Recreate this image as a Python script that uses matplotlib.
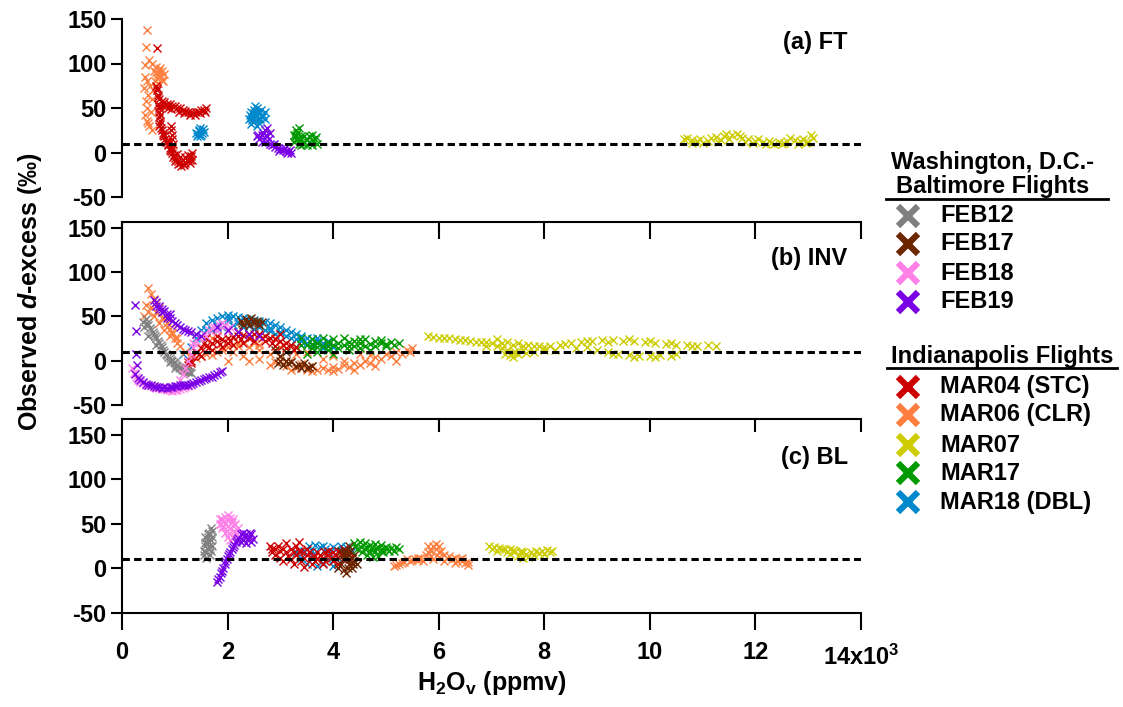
import matplotlib
matplotlib.use('Agg')
import matplotlib.pyplot as plt
from matplotlib.lines import Line2D

plt.rcParams['font.family'] = ['Liberation Sans', 'DejaVu Sans']
plt.rcParams['font.weight'] = 'bold'
plt.rcParams['mathtext.fontset'] = 'custom'
plt.rcParams['mathtext.bf'] = 'Liberation Sans:bold'
plt.rcParams['mathtext.rm'] = 'Liberation Sans:bold'
plt.rcParams['mathtext.bfit'] = 'Liberation Sans:italic:bold'

# flight names and colours
flights = ['FEB12', 'FEB17', 'FEB18', 'FEB19',
           'MAR04', 'MAR06', 'MAR07', 'MAR17', 'MAR18']
legend_labels = ['FEB12', 'FEB17', 'FEB18', 'FEB19',
                 'MAR04 (STC)', 'MAR06 (CLR)', 'MAR07', 'MAR17', 'MAR18 (DBL)']
colors = {'FEB12': '#808080', 'FEB17': '#6b2600', 'FEB18': '#ff80e6',
          'FEB19': '#7a00e6', 'MAR04': '#cc0000', 'MAR06': '#ff7f40',
          'MAR07': '#cccc00', 'MAR17': '#009900', 'MAR18': '#0088cc'}

# ---- (a) FT : (H2Ov ppmv, d-excess permil) ----
a_mar06 = [(470, 138), (460, 119), (520, 104), (440, 98), (560, 100), (600, 92), (650, 90),
           (700, 85), (620, 80), (690, 78), (750, 82), (800, 88), (720, 95), (760, 92),
           (640, 96), (430, 85), (480, 80), (420, 72), (500, 65), (450, 58), (470, 50),
           (430, 42), (480, 35), (510, 30), (540, 45), (560, 60), (590, 70), (530, 75),
           (560, 25), (500, 33), (680, 88), (730, 86), (780, 80), (660, 84), (700, 92)]
a_mar04 = [(660, 117), (650, 75), (660, 70), (680, 65), (700, 60), (690, 55), (700, 50),
           (710, 45), (700, 40), (720, 35), (710, 30), (740, 28), (760, 25), (780, 20),
           (800, 18), (820, 15), (850, 12), (880, 8), (900, 5), (920, 2), (950, 0),
           (980, -3), (1000, -6), (1030, -8), (1060, -10), (1100, -12), (1150, -13),
           (1200, -12), (1250, -10), (1280, -8), (1300, -4), (1320, 0), (1050, -2),
           (1100, -5), (1150, -8), (1200, -5), (1250, -3), (760, 58), (800, 57), (850, 55),
           (900, 55), (950, 52), (1000, 52), (1050, 50), (1100, 50), (1150, 48), (1200, 47),
           (1250, 46), (1300, 45), (1350, 44), (1400, 45), (1450, 46), (1500, 48),
           (1550, 48), (1600, 50), (920, 30), (930, 25), (940, 20), (950, 15), (960, 10),
           (950, 5), (670, 72), (690, 62), (710, 52), (715, 42), (725, 32), (770, 22),
           (830, 12), (870, 10), (910, 3), (970, -5), (1010, -10), (1070, -13), (1120, -15),
           (1180, -14), (1230, -8), (1280, -12), (1320, -8), (780, 52), (830, 52), (880, 50),
           (930, 49), (1080, 46), (1180, 44), (1280, 42), (1380, 42), (1480, 44), (1580, 45)]
a_mar18 = [(1400, 22), (1450, 25), (1500, 20), (1480, 28), (1530, 26), (1420, 18),
           (1470, 18), (1550, 23), (1440, 21), (1510, 22), (1460, 24), (2400, 38),
           (2450, 45), (2500, 48), (2550, 42), (2600, 45), (2650, 40), (2700, 38),
           (2450, 32), (2500, 35), (2550, 30), (2600, 33), (2700, 45), (2480, 40),
           (2620, 38), (2550, 50), (2420, 42), (2520, 52), (2580, 38), (2680, 42),
           (2500, 44), (2560, 46), (2640, 48), (2460, 36)]
a_feb19 = [(2550, 18), (2600, 15), (2650, 20), (2700, 25), (2750, 27), (2800, 22),
           (2700, 12), (2800, 10), (2850, 8), (2900, 6), (2950, 5), (3000, 4), (3050, 3),
           (3100, 2), (3150, 1), (3200, 0), (2750, 18), (2650, 12), (2580, 20), (2680, 22),
           (2720, 20), (2780, 15), (2880, 9), (2980, 2), (3080, 5), (3180, 3), (3130, 0)]
a_mar17 = [(3250, 20), (3300, 25), (3350, 28), (3300, 15), (3250, 12), (3350, 10),
           (3400, 8), (3450, 12), (3500, 15), (3550, 18), (3600, 20), (3650, 15),
           (3700, 10), (3600, 8), (3500, 8), (3400, 18), (3300, 20), (3280, 17), (3320, 22),
           (3380, 14), (3450, 18), (3550, 12), (3620, 13), (3680, 17), (3420, 10)]
a_mar07 = [(10650, 15), (10800, 14), (10950, 15), (11100, 13), (11250, 17), (11400, 19),
           (11550, 20), (11700, 18), (11850, 15), (12000, 13), (12150, 12), (12300, 11),
           (12450, 12), (12600, 13), (12750, 14), (12900, 15), (13050, 20), (11500, 15),
           (11800, 12), (12200, 9), (12500, 9), (12800, 10), (13000, 12), (11300, 12),
           (11000, 11), (10800, 11), (10700, 16), (10900, 13), (11150, 16), (11350, 14),
           (11450, 21), (11650, 21), (11750, 16), (11950, 11), (12050, 15), (12250, 13),
           (12350, 9), (12550, 11), (12650, 16), (12850, 13), (12950, 11), (13100, 16)]

# ---- (b) INV ----
b_mar07 = [(5800, 28), (6000, 26), (6200, 25), (6400, 23), (6600, 22), (6800, 21),
           (7000, 20), (7100, 17), (7200, 14), (7300, 12), (7400, 9), (7500, 8), (7300, 21),
           (7500, 20), (7700, 18), (7900, 16), (8100, 17), (8300, 18), (8500, 20),
           (8700, 21), (8900, 22), (9100, 23), (9300, 23), (9500, 22), (9700, 22),
           (9900, 21), (10100, 20), (10300, 19), (10500, 18), (10700, 18), (10900, 17),
           (11100, 18), (11250, 17), (8000, 12), (8200, 12), (9200, 10), (9400, 8),
           (9600, 6), (9800, 5), (10000, 5), (10200, 6), (10400, 5), (8600, 14),
           (8800, 15), (9000, 12), (7800, 10), (7600, 12), (7100, 24), (6900, 16), (7400, 4),
           (5900, 27), (6100, 25), (6300, 24), (6500, 23), (6700, 21), (6900, 21),
           (7200, 20), (7400, 18), (7600, 17), (7800, 16), (8000, 15), (7250, 8), (7350, 6),
           (7450, 10), (7650, 9), (8400, 19), (8800, 22), (9200, 21), (9600, 24),
           (10000, 22), (10400, 20), (10800, 17), (9300, 7), (9700, 4), (10100, 4), (10500, 7)]
b_mar17 = [(3300, 15), (3500, 18), (3700, 20), (3900, 21), (4100, 20), (4300, 21),
           (4500, 20), (4700, 19), (4900, 20), (5100, 21), (5250, 20), (3500, 8), (3700, 10),
           (3900, 12), (4100, 14), (4300, 16), (4500, 14), (4700, 12), (3400, 25),
           (3600, 24), (3800, 26), (4000, 24), (4200, 25), (4400, 22), (4600, 24),
           (4800, 17), (5000, 16), (3600, 14), (4000, 8), (3400, 18), (3600, 19), (3800, 16),
           (4000, 18), (4200, 18), (4400, 17), (4600, 17), (4800, 22), (5000, 19),
           (3700, 15), (3900, 17), (4300, 12), (4500, 24), (4900, 23), (5150, 18)]
b_mar06 = [(500, 82), (550, 75), (600, 70), (650, 65), (700, 60), (750, 55), (800, 48),
           (850, 42), (900, 36), (950, 30), (1000, 25), (1050, 20), (1100, 16), (450, 63),
           (420, 50), (500, 55), (600, 50), (700, 42), (800, 35), (900, 28), (1200, 10),
           (1300, 5), (1400, 3), (1600, 8), (1800, 10), (2000, 15), (2200, 17), (2400, 15),
           (2600, 12), (2800, 8), (3000, 4), (3200, 0), (3400, -4), (3600, -6), (3800, -8),
           (4000, -7), (4200, -5), (4400, -3), (4600, 0), (4800, 4), (5000, 8), (5200, 10),
           (5400, 12), (5500, 14), (2000, 0), (2400, 0), (2800, -5), (3200, -10),
           (3600, -12), (4000, -12), (4400, -10), (4800, -6), (5200, 0), (1700, 25),
           (2100, 28), (2500, 20), (3000, 15), (3500, 10), (4000, 5), (4500, 8), (2900, 25),
           (1500, 5), (1700, 6), (1900, 12), (2100, 10), (2300, 5), (2600, 2), (2900, -2),
           (3100, -6), (3300, -8), (3500, -10), (3700, -10), (3900, -10), (4100, -9),
           (4300, -7), (4500, -5), (4700, -3), (4900, 2), (5100, 5), (5300, 8), (5450, 10),
           (2200, 20), (2600, 18), (3300, 8), (3800, 2), (4200, 0), (4700, 6), (550, 60),
           (650, 55), (750, 48), (850, 38), (950, 32), (1050, 25)]
b_mar18 = [(1150, 8), (1300, 15), (1400, 25), (1500, 35), (1600, 42), (1700, 46),
           (1800, 48), (1900, 50), (2000, 51), (2100, 50), (2200, 49), (2300, 48),
           (2400, 47), (2500, 46), (2600, 45), (2700, 44), (2800, 42), (2900, 40),
           (3000, 38), (3100, 35), (3200, 32), (3300, 30), (3400, 28), (3500, 26),
           (3600, 24), (3700, 22), (3800, 20), (3900, 18), (4000, 15), (1700, 35),
           (1900, 38), (2100, 40), (2300, 38), (2500, 36), (2700, 34), (2900, 30),
           (3100, 28), (3300, 24), (3500, 20), (2000, 45), (2400, 43), (2800, 37),
           (1600, 35), (1800, 40), (2000, 48), (2200, 44), (2400, 39), (2600, 38),
           (2800, 33), (3000, 32), (3200, 25), (3400, 22), (3600, 18), (3800, 14),
           (3700, 26), (3900, 22)]
b_feb17 = [(2250, 45), (2350, 47), (2450, 48), (2550, 45), (2650, 43), (2300, 40),
           (2400, 40), (2500, 42), (2600, 40), (2900, 12), (3000, 5), (3100, 0), (3200, -2),
           (2950, -3), (3050, -5), (3300, -6), (3400, -8), (3500, -8), (3600, -6),
           (3450, -3), (3100, 10), (2280, 42), (2380, 44), (2480, 45), (2580, 42),
           (3150, -3), (3350, -5), (3550, -7), (3000, 0)]
b_mar04 = [(1200, -8), (1250, -5), (1300, 0), (1350, 5), (1400, 10), (1500, 14),
           (1600, 17), (1700, 20), (1800, 22), (1900, 24), (2000, 26), (2100, 27),
           (2200, 28), (2300, 29), (2400, 30), (2500, 30), (2600, 30), (2700, 28),
           (2800, 26), (2900, 24), (3000, 22), (3100, 20), (3200, 18), (3300, 15),
           (1300, -3), (1500, 5), (1700, 12), (1900, 15), (2100, 18), (2300, 20),
           (2500, 22), (2700, 22), (2900, 17), (3100, 14), (1600, 25), (2000, 20),
           (2400, 25), (3000, 30), (1250, -2), (1450, 8), (1650, 15), (1850, 19),
           (2050, 22), (2250, 24), (2450, 27), (2650, 26), (2850, 20), (3050, 18),
           (3250, 12), (1550, 20), (1800, 28), (2200, 32)]
b_feb18 = [(180, -8), (220, -14), (260, -18), (300, -22), (400, -25), (500, -28),
           (600, -30), (700, -31), (800, -32), (900, -33), (1000, -33), (1100, -32),
           (1200, -30), (1300, -28), (1100, -22), (1150, -15), (1200, -8), (1250, 0),
           (1300, 8), (1350, 15), (1450, 25), (1550, 30), (1650, 35), (1750, 38),
           (1850, 40), (1950, 40), (2050, 38), (1600, 28), (1800, 33), (2000, 33),
           (350, -24), (450, -27), (550, -29), (650, -31), (750, -32), (850, -33),
           (950, -34), (1050, -33), (1150, -31), (1250, -29), (1350, 20), (1500, 28),
           (1700, 37), (1900, 42), (1400, 22)]
b_feb19 = [(250, 63), (260, 33), (260, 8), (280, -5), (600, 68), (650, 66), (700, 62),
           (750, 58), (800, 56), (850, 52), (900, 48), (950, 45), (1000, 42), (1100, 38),
           (1200, 35), (1300, 32), (1400, 30), (1500, 28), (700, 58), (900, 52), (250, -15),
           (300, -20), (400, -24), (500, -27), (600, -29), (700, -30), (800, -30),
           (900, -30), (1000, -29), (1100, -28), (1200, -27), (1300, -26), (1400, -24),
           (1500, -22), (1600, -20), (1700, -18), (1800, -15), (1900, -12), (2000, 35),
           (2200, 32), (2400, 30), (2600, 28), (1800, 38), (650, 62), (750, 55), (850, 48),
           (1050, 40), (1150, 36), (1250, 33), (350, -22), (450, -26), (550, -28),
           (650, -30), (750, -31), (850, -31), (950, -30), (1050, -29), (1150, -28),
           (1250, -27), (1350, -25), (1450, -23), (1550, -21), (1650, -19), (1750, -16),
           (1850, -13)]
b_feb12 = [(400, 43), (450, 47), (500, 40), (550, 35), (600, 30), (650, 26), (700, 20),
           (750, 15), (800, 10), (850, 6), (900, 3), (950, 0), (1000, -3), (1050, -6),
           (1100, -8), (1150, -10), (1200, -12), (1250, -13), (1300, -14), (650, 18),
           (900, -2), (500, 28), (1000, -8), (420, 38), (480, 42), (530, 37), (580, 32),
           (630, 28), (680, 22), (730, 18), (780, 12), (830, 8), (880, 4), (930, 1),
           (980, -2), (1030, -5), (1080, -7), (1130, -9), (1180, -11), (1230, -12),
           (1280, -13)]

# ---- (c) BL ----
c_feb12 = [(1550, 20), (1580, 25), (1600, 30), (1620, 35), (1650, 40), (1680, 45),
           (1700, 42), (1650, 30), (1700, 25), (1680, 20), (1600, 18), (1560, 15),
           (1620, 22), (1700, 35), (1660, 15), (1570, 28), (1630, 38), (1690, 32),
           (1580, 35), (1640, 25), (1600, 12)]
c_feb18 = [(1850, 50), (1900, 55), (1950, 58), (2000, 60), (2050, 57), (2100, 55),
           (2150, 50), (2200, 45), (2150, 40), (2100, 35), (2050, 32), (2000, 35),
           (1950, 40), (1900, 45), (1850, 55), (2050, 45), (2100, 48), (1950, 50),
           (2000, 48), (2180, 38), (1880, 50), (1980, 55), (2080, 52), (2120, 42),
           (2020, 40), (1920, 48)]
c_feb19 = [(1800, -15), (1850, -10), (1880, -5), (1920, 0), (1950, 5), (1980, 10),
           (2010, 14), (2050, 18), (2080, 22), (2120, 26), (2160, 30), (2200, 34),
           (2250, 38), (2300, 40), (2350, 38), (2400, 35), (2450, 30), (2350, 28),
           (2300, 32), (2420, 40), (2480, 33), (2250, 30), (1820, -12), (1900, -3),
           (1960, 8), (2030, 16), (2100, 24), (2180, 32), (2380, 33), (2320, 36), (2440, 38)]
c_mar04 = [(2800, 25), (2900, 22), (3000, 20), (3100, 18), (3200, 22), (3300, 25),
           (3400, 20), (3500, 15), (3600, 12), (3700, 10), (3800, 12), (3900, 15),
           (4000, 18), (4100, 20), (4200, 22), (4300, 18), (4350, 12), (2900, 15),
           (3000, 12), (3200, 10), (3400, 8), (3600, 5), (3800, 5), (4000, 8), (4200, 10),
           (2850, 18), (3100, 28), (3300, 15), (3500, 22), (3700, 18), (3900, 20),
           (4100, 5), (3350, 30), (3050, 8), (2850, 22), (2950, 25), (3050, 22), (3150, 14),
           (3250, 18), (3350, 20), (3450, 12), (3550, 18), (3650, 14), (3750, 15),
           (3850, 8), (3950, 12), (4050, 15), (4150, 16), (4250, 14), (3250, 5), (3450, 2),
           (3650, 8), (3850, 18), (4300, 10)]
c_mar18 = [(3450, 20), (3550, 25), (3650, 26), (3750, 24), (3850, 22), (3950, 20),
           (4050, 22), (4150, 25), (4250, 24), (4350, 20), (3500, 5), (3700, 3),
           (3600, 15), (3900, 10), (4100, 12), (3300, 18), (3400, 12), (3600, 20),
           (3800, 25), (4000, 24), (4200, 18), (3800, 6), (4000, 3)]
c_feb17 = [(4150, 20), (4200, 15), (4250, 10), (4300, 5), (4350, 0), (4200, -2),
           (4150, 5), (4250, 20), (4300, 15), (4350, 12), (4400, 8), (4450, 5), (4100, 0),
           (4250, -5), (4400, 15), (4300, 25), (4180, 10), (4280, 0), (4380, 5),
           (4220, 18), (4320, 20)]
c_mar17 = [(4400, 28), (4500, 30), (4600, 28), (4700, 26), (4800, 27), (4900, 26),
           (5000, 24), (5100, 23), (5250, 22), (4450, 22), (4550, 18), (4650, 15),
           (4750, 13), (4850, 14), (4950, 18), (5050, 20), (5200, 24), (4600, 22),
           (4800, 20), (4420, 25), (4520, 24), (4620, 24), (4720, 22), (4820, 23),
           (4920, 22), (5020, 22), (4700, 18), (4900, 20), (5150, 20)]
c_mar06 = [(5150, 3), (5250, 5), (5350, 7), (5450, 8), (5550, 10), (5650, 12), (5750, 15),
           (5850, 20), (5900, 25), (5950, 22), (6000, 18), (6100, 15), (6200, 14),
           (6300, 12), (6400, 10), (6500, 6), (6550, 4), (5700, 8), (5900, 10), (6100, 8),
           (6300, 6), (5800, 25), (6000, 25), (5600, 12), (6450, 12), (5200, 4), (5300, 6),
           (5400, 10), (5500, 9), (5600, 9), (5800, 18), (5950, 27), (6050, 20), (6150, 12),
           (6250, 10), (6350, 8), (6450, 8), (6550, 7), (5850, 14), (6000, 13)]
c_mar07 = [(6950, 25), (7050, 24), (7150, 23), (7250, 22), (7350, 22), (7450, 20),
           (7550, 17), (7650, 16), (7750, 18), (7850, 19), (7950, 20), (8050, 21),
           (8150, 20), (7300, 18), (7500, 14), (7600, 12), (7800, 15), (8000, 16), (7100, 20),
           (7000, 22), (7200, 22), (7400, 21), (7550, 20), (7700, 13), (7900, 17),
           (8100, 18), (7350, 16), (7600, 18)]

panel_a = {'MAR06': a_mar06, 'MAR04': a_mar04, 'MAR18': a_mar18, 'FEB19': a_feb19,
           'MAR17': a_mar17, 'MAR07': a_mar07}
panel_b = {'MAR18': b_mar18, 'MAR06': b_mar06, 'MAR07': b_mar07, 'MAR17': b_mar17,
           'MAR04': b_mar04, 'FEB12': b_feb12, 'FEB18': b_feb18, 'FEB19': b_feb19,
           'FEB17': b_feb17}
panel_c = {'MAR18': c_mar18, 'MAR06': c_mar06, 'MAR07': c_mar07, 'MAR17': c_mar17,
           'MAR04': c_mar04, 'FEB12': c_feb12, 'FEB18': c_feb18, 'FEB19': c_feb19,
           'FEB17': c_feb17}

W, H = 1123, 707
fig = plt.figure(figsize=(W / 100, H / 100), dpi=100)


def px_axes(x0, x1, ytop, ybot):
    return fig.add_axes([x0 / W, 1 - ybot / H, (x1 - x0) / W, (ybot - ytop) / H])


ax_a = px_axes(122, 861, 19, 197)
ax_b = px_axes(122, 861, 222, 405)
ax_c = px_axes(122, 861, 419, 613)

fs = 17
for ax, data, top, label in [(ax_a, panel_a, 150, '(a) FT'),
                             (ax_b, panel_b, 156.2, '(b) INV'),
                             (ax_c, panel_c, 167.4, '(c) BL')]:
    for name, pts in data.items():
        xs = [p[0] for p in pts]
        ys = [p[1] for p in pts]
        ax.plot(xs, ys, ls='none', marker='x', ms=6, mew=1.0, color=colors[name])
    ax.axhline(10, color='black', lw=2.2, dashes=(2.4, 1.4), zorder=5)
    ax.set_xlim(0, 14000)
    ax.set_ylim(-50, top)
    ax.set_yticks([-50, 0, 50, 100, 150])
    ax.set_yticklabels(['-50', '0', '50', '100', '150'])
    ax.tick_params(axis='y', direction='out', length=8, width=1.5, labelsize=fs, pad=3)
    ax.spines['right'].set_visible(False)
    for s in ax.spines.values():
        s.set_linewidth(1.5)
    ax.text(0.982, 0.87 if ax is ax_a else 0.80, label, transform=ax.transAxes,
            ha='right', va='center', fontsize=fs)

ax_a.spines['top'].set_visible(False)
ax_a.spines['bottom'].set_visible(False)
ax_a.set_xticks([])

xt = [0, 2000, 4000, 6000, 8000, 10000, 12000, 14000]
ax_b.spines['bottom'].set_visible(False)
ax_b.set_xticks(xt)
ax_b.tick_params(axis='x', bottom=False, top=True, direction='in', length=12, width=1.5,
                 labelbottom=False)

ax_c.set_xticks(xt)
ax_c.set_xticklabels(['0', '2', '4', '6', '8', '10', '12', ''])
ax_c.tick_params(axis='x', bottom=True, top=False, direction='out', length=12, width=1.5,
                 labelsize=fs, pad=8)
ax_c.plot([0, 14000], [1, 1], transform=ax_c.get_xaxis_transform(), color='black', lw=1.5,
          clip_on=False)
ax_c.spines['top'].set_visible(False)
for x in xt[1:]:
    ax_c.plot([x, x], [1, 1 - 12 / 194], transform=ax_c.get_xaxis_transform(),
              color='black', lw=1.5, clip_on=False)
ax_c.text(14000, -32 / 194, r'$\mathbf{14x10^{3}}$', transform=ax_c.get_xaxis_transform(),
          ha='center', va='top', fontsize=fs)
ax_c.set_xlabel(r'$\mathbf{H_2O_v}$ (ppmv)', fontsize=18, fontweight='bold', labelpad=4)

fig.text(30 / W, 1 - 292 / H, r'Observed $\mathbfit{d}$-excess (‰)', rotation=90,
         ha='center', va='center', fontsize=18)

# legend block on the right
fig.text(993 / W, 1 - 162 / H, 'Washington, D.C.-', ha='center', va='center', fontsize=fs)
fig.text(993 / W, 1 - 186 / H, 'Baltimore Flights', ha='center', va='center', fontsize=fs)
fig.add_artist(Line2D([886 / W, 1108 / W], [1 - 199 / H, 1 - 199 / H], color='black', lw=2))
fig.text(1002 / W, 1 - 357 / H, 'Indianapolis Flights', ha='center', va='center', fontsize=fs)
fig.add_artist(Line2D([887 / W, 1117 / W], [1 - 368 / H, 1 - 368 / H], color='black', lw=2))

leg_y = [216, 244, 273, 302, 387, 415, 445, 473, 502]
for name, lab, yy in zip(flights, legend_labels, leg_y):
    fig.add_artist(Line2D([908 / W], [1 - yy / H], marker='x', ms=15, mew=4.5,
                          color=colors[name], ls='none'))
    fig.text(940 / W, 1 - yy / H, lab, ha='left', va='center', fontsize=fs)

fig.savefig('out.png', dpi=100)
